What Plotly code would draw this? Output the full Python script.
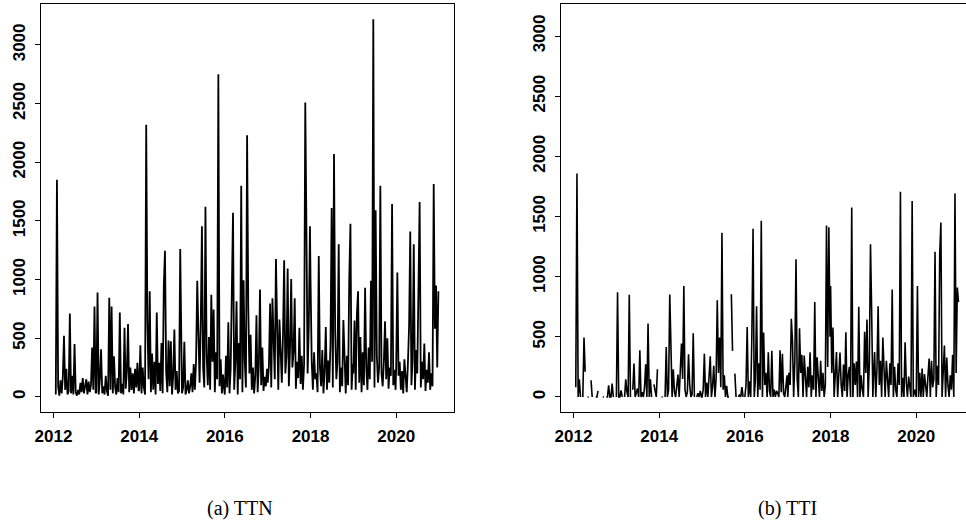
import pandas as pd
import plotly.graph_objects as go

# ---- data: values every 10 days within each year (day 0, 10, ..., 360) ----
years = [2012, 2013, 2014, 2015, 2016, 2017, 2018, 2019, 2020]
step_days = 10

ttn_2012 = [None, None, 20, 1850, 90, 10, 140, 30, 170, 520, 60, 240, 20, 50, 710, 30, 180, 20, 450, 40, 10, 60, 20, 120, 40, 160, 30, 80, 150, 20, 130, 40, 100, 420, 60, 770, 30]
ttn_2013 = [40, 890, 20, 150, 405, 30, 90, 20, 180, 50, 10, 845, 60, 770, 30, 345, 80, 20, 160, 40, 720, 30, 110, 20, 590, 70, 210, 620, 40, 250, 60, 200, 30, 240, 80, 290, 50]
ttn_2014 = [60, 440, 30, 250, 80, 20, 2320, 640, 150, 900, 40, 370, 60, 300, 20, 720, 110, 290, 50, 460, 30, 950, 1245, 210, 40, 480, 90, 475, 20, 180, 575, 60, 220, 30, 50, 1260, 40]
ttn_2015 = [30, 80, 470, 20, 60, 140, 30, 90, 200, 40, 280, 60, 310, 990, 420, 120, 620, 1455, 250, 80, 1620, 360, 100, 510, 60, 870, 300, 745, 40, 380, 150, 2750, 90, 320, 30, 190, 60]
ttn_2016 = [20, 350, 80, 635, 30, 240, 830, 1570, 60, 300, 815, 20, 460, 150, 1800, 40, 995, 310, 80, 2230, 775, 200, 530, 60, 250, 30, 180, 695, 40, 270, 915, 100, 420, 50, 170, 90, 240]
ttn_2017 = [120, 260, 795, 80, 840, 490, 150, 1175, 400, 60, 660, 380, 120, 520, 1165, 200, 350, 1095, 90, 410, 1005, 250, 380, 840, 70, 300, 160, 590, 110, 350, 60, 280, 2510, 1425, 200, 600, 1455]
ttn_2018 = [990, 300, 60, 380, 150, 200, 40, 1200, 250, 90, 400, 30, 220, 595, 60, 310, 120, 450, 1610, 80, 2070, 560, 150, 300, 1300, 40, 250, 90, 655, 200, 30, 350, 100, 1005, 1475, 60, 280]
ttn_2019 = [200, 650, 60, 700, 900, 120, 510, 40, 380, 100, 930, 250, 60, 420, 150, 990, 300, 3220, 80, 1590, 350, 120, 260, 1800, 200, 90, 300, 645, 150, 500, 70, 250, 180, 1645, 100, 230, 60]
ttn_2020 = [250, 1060, 180, 300, 60, 220, 30, 320, 150, 40, 280, 600, 1410, 100, 320, 1300, 60, 400, 200, 1250, 1660, 80, 300, 150, 455, 50, 230, 120, 380, 60, 200, 90, 1815, 580, 950, 250, 900]

tti_2012 = [None, None, 80, 1858, 0, 147, 0, None, 0, 494, 210, None, 0, 0, None, 139, 0, None, None, 0, 0, 50, None, None, None, 0, 0, None, 0, 0, 97, 0, 0, 111, 0, None, None]
tti_2013 = [0, 871, 0, 0, 55, 0, None, 0, 147, 40, 0, 849, 0, None, 60, 277, 0, 30, 70, 0, 388, 0, 40, 0, 80, 272, 0, 610, 0, 147, 0, None, 105, 60, 0, 230, None]
tti_2014 = [None, None, 0, 0, None, 0, 416, 0, 60, 851, 355, 0, 230, 40, 0, 120, 186, 0, 200, 444, 150, 923, 60, 0, 40, 355, 100, 0, 20, 530, 0, None, 0, 30, 0, 50, 0]
tti_2015 = [0, 60, 360, 0, 120, 0, 200, 338, 0, 90, 260, 0, 150, 804, 200, 494, 80, 1364, 60, 180, 0, 92, 0, 0, None, 854, 383, None, 194, 0, None, 0, 20, 0, 83, 0, None]
tti_2016 = [0, 100, 582, 0, 130, 0, 521, 1398, 0, 150, 754, 0, 280, 60, 1464, 0, 535, 100, 200, 0, 372, 50, 0, 383, 0, 60, 0, 50, 30, 0, 388, 40, 360, 30, 0, 120, 180]
tti_2017 = [0, 200, 100, 649, 466, 0, 300, 1145, 150, 0, 571, 200, 350, 0, 344, 150, 0, 250, 80, 372, 0, 180, 60, 790, 0, 330, 150, 0, 300, 50, 200, 0, 100, 1425, 250, 1411, 500]
tti_2018 = [923, 200, 577, 0, 250, 374, 0, 270, 369, 100, 0, 270, 50, 538, 0, 180, 250, 0, 1575, 0, 280, 100, 294, 0, 749, 0, 180, 60, 0, 541, 200, 643, 0, 280, 1270, 700, 0]
tti_2019 = [150, 374, 0, 230, 754, 100, 300, 0, 494, 200, 0, 300, 160, 0, 280, 100, 893, 0, 250, 60, 0, 280, 100, 1705, 0, 160, 0, 455, 120, 0, 170, 50, 0, 1628, 0, 60, 0]
tti_2020 = [0, 923, 0, 200, 0, 236, 0, 190, 60, 0, 180, 319, 0, 300, 80, 150, 1206, 0, 260, 100, 1187, 1450, 0, 220, 427, 0, 327, 100, 0, 180, 60, 350, 0, 1692, 200, 910, 788]

ttn_by_year = [ttn_2012, ttn_2013, ttn_2014, ttn_2015, ttn_2016, ttn_2017, ttn_2018, ttn_2019, ttn_2020]
tti_by_year = [tti_2012, tti_2013, tti_2014, tti_2015, tti_2016, tti_2017, tti_2018, tti_2019, tti_2020]

tick_years = [2012, 2014, 2016, 2018, 2020]
y_ticks = [0, 500, 1000, 1500, 2000, 2500, 3000]
captions = ["(a) TTN", "(b) TTI"]


def build(series_by_year):
    xs, ys = [], []
    for yr, vals in zip(years, series_by_year):
        base = pd.Timestamp(year=yr, month=1, day=1)
        for k, v in enumerate(vals):
            xs.append(base + pd.Timedelta(days=step_days * k))
            ys.append(v)
    return xs, ys


W, H = 966, 532
fig = go.Figure()

x1, y1 = build(ttn_by_year)
x2, y2 = build(tti_by_year)
fig.add_trace(go.Scatter(x=x1, y=y1, mode="lines", line=dict(color="black", width=1.8),
                         xaxis="x", yaxis="y", showlegend=False, connectgaps=False))
fig.add_trace(go.Scatter(x=x2, y=y2, mode="lines", line=dict(color="black", width=1.6),
                         xaxis="x2", yaxis="y2", showlegend=False, connectgaps=False))

tickfont = dict(family="Liberation Sans, Arial, sans-serif", size=17, color="black", weight="bold")
tickvals = [pd.Timestamp(year=y, month=1, day=1) for y in tick_years]
ticktext = [str(y) for y in tick_years]

common_x = dict(type="date", tickmode="array", tickvals=tickvals, ticktext=ticktext,
                showgrid=False, zeroline=False, showline=True, linecolor="black", linewidth=1,
                ticks="outside", ticklen=5, tickcolor="black", tickfont=tickfont,
                automargin=False, ticklabelstandoff=4)
common_y = dict(tickmode="array", tickvals=y_ticks, ticktext=[str(v) for v in y_ticks],
                showgrid=False, zeroline=False, showline=True, linecolor="black", linewidth=1,
                ticks="outside", ticklen=5, tickcolor="black", tickfont=tickfont,
                tickangle=-90, automargin=False, ticklabelstandoff=3)

fig.update_layout(
    width=W, height=H, margin=dict(l=0, r=0, t=0, b=0),
    paper_bgcolor="white", plot_bgcolor="white",
    xaxis=dict(common_x, domain=[41 / W, 454 / W], anchor="y", mirror=True,
               range=["2011-09-17", "2021-05-08"]),
    yaxis=dict(common_y, domain=[1 - 412 / H, 1 - 4 / H], anchor="x", mirror=True,
               range=[-129, 3349]),
    xaxis2=dict(common_x, domain=[561 / W, 1.0], anchor="y2", mirror=True,
                range=["2011-09-17", "2021-02-28"]),
    yaxis2=dict(common_y, domain=[1 - 412 / H, 1 - 4 / H], anchor="x2", mirror=False,
                range=[-125, 3266]),
)

for cx, txt in zip([240, 787], captions):
    fig.add_annotation(x=cx / W, y=1 - 508 / H, xref="paper", yref="paper", text=txt,
                       showarrow=False, xanchor="center", yanchor="middle",
                       font=dict(family="Liberation Serif, Times New Roman, serif", size=20, color="black"))

fig.write_html("out.html")
